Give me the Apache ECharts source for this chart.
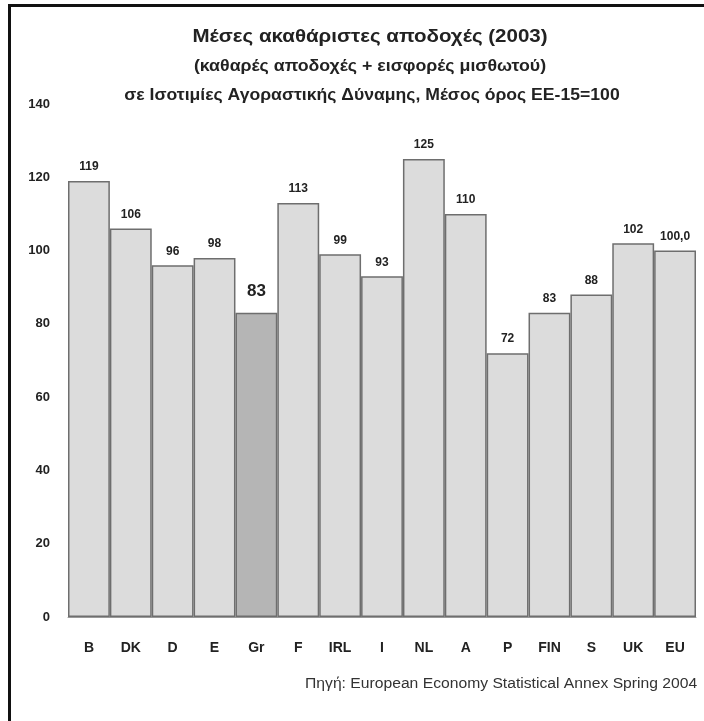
<!DOCTYPE html>
<html><head><meta charset="utf-8">
<script src="https://cdn.jsdelivr.net/npm/echarts@6/dist/echarts.min.js"></script>
<style>html,body{margin:0;padding:0;background:#fff}#c{width:704px;height:721px}</style>
</head><body><div id="c"></div>
<script>
var categories = ['B','DK','D','E','Gr','F','IRL','I','NL','A','P','FIN','S','UK','EU'];
var values = [119,106,96,98,83,113,99,93,125,110,72,83,88,102,100.0];
var valueLabels = ['119','106','96','98','83','113','99','93','125','110','72','83','88','102','100,0'];
var highlight = 'Gr';
var titleLines = ['Μέσες ακαθάριστες αποδοχές (2003)','(καθαρές αποδοχές + εισφορές μισθωτού)','σε Ισοτιμίες Αγοραστικής Δύναμης, Μέσος όρος ΕΕ-15=100'];
var sourceText = 'Πηγή: European Economy Statistical Annex Spring 2004';

var FONT = '"Liberation Sans",Arial,sans-serif';
var chart = echarts.init(document.getElementById('c'));
var data = values.map(function(v,i){
  var hi = categories[i]===highlight;
  return {
    value: v,
    itemStyle: {color: hi ? '#b5b5b5' : '#dcdcdc'},
    label: hi ? {fontSize: 17, distance: 13} : {}
  };
});
function titleText(txt, x, y, size, sx){
  return {type:'text', x:x, y:y, scaleX:sx, silent:true,
    style:{text:txt, font:'bold '+size+'px '+FONT, fill:'#222', align:'center', verticalAlign:'middle'}};
}
chart.setOption({
  backgroundColor:'#fff',
  animation:false,
  grid:{left:68,right:8,top:104,bottom:104},
  xAxis:{type:'category',data:categories,
    axisLine:{show:true,lineStyle:{color:'#999',width:1}},axisTick:{show:false},
    axisLabel:{margin:24,fontFamily:FONT,fontSize:14,fontWeight:'bold',color:'#222'}},
  yAxis:{type:'value',min:0,max:140,interval:20,
    splitLine:{show:false},axisLine:{show:false},axisTick:{show:false},
    axisLabel:{margin:18,fontFamily:FONT,fontSize:13,fontWeight:'bold',color:'#222'}},
  series:[{type:'bar',data:data,barCategoryGap:0,
    itemStyle:{borderColor:'#6e6e6e',borderWidth:1.5},
    label:{show:true,position:'top',distance:8,fontFamily:FONT,fontSize:12,fontWeight:'bold',color:'#222',
      formatter:function(p){return valueLabels[p.dataIndex];}}
  }],
  graphic:[
    {type:'line',shape:{x1:8,y1:5.5,x2:704,y2:5.5},style:{stroke:'#111',lineWidth:3}},
    {type:'line',shape:{x1:9.5,y1:4,x2:9.5,y2:721},style:{stroke:'#111',lineWidth:3}},
    titleText(titleLines[0], 370, 37, 19, 1.08),
    titleText(titleLines[1], 370, 67, 16, 1.11),
    titleText(titleLines[2], 372, 96, 16, 1.10),
    {type:'text', x:305, y:684, scaleX:1.12, silent:true,
      style:{text:sourceText, font:'14px '+FONT, fill:'#333', align:'left', verticalAlign:'middle'}}
  ]
});
</script></body></html>
